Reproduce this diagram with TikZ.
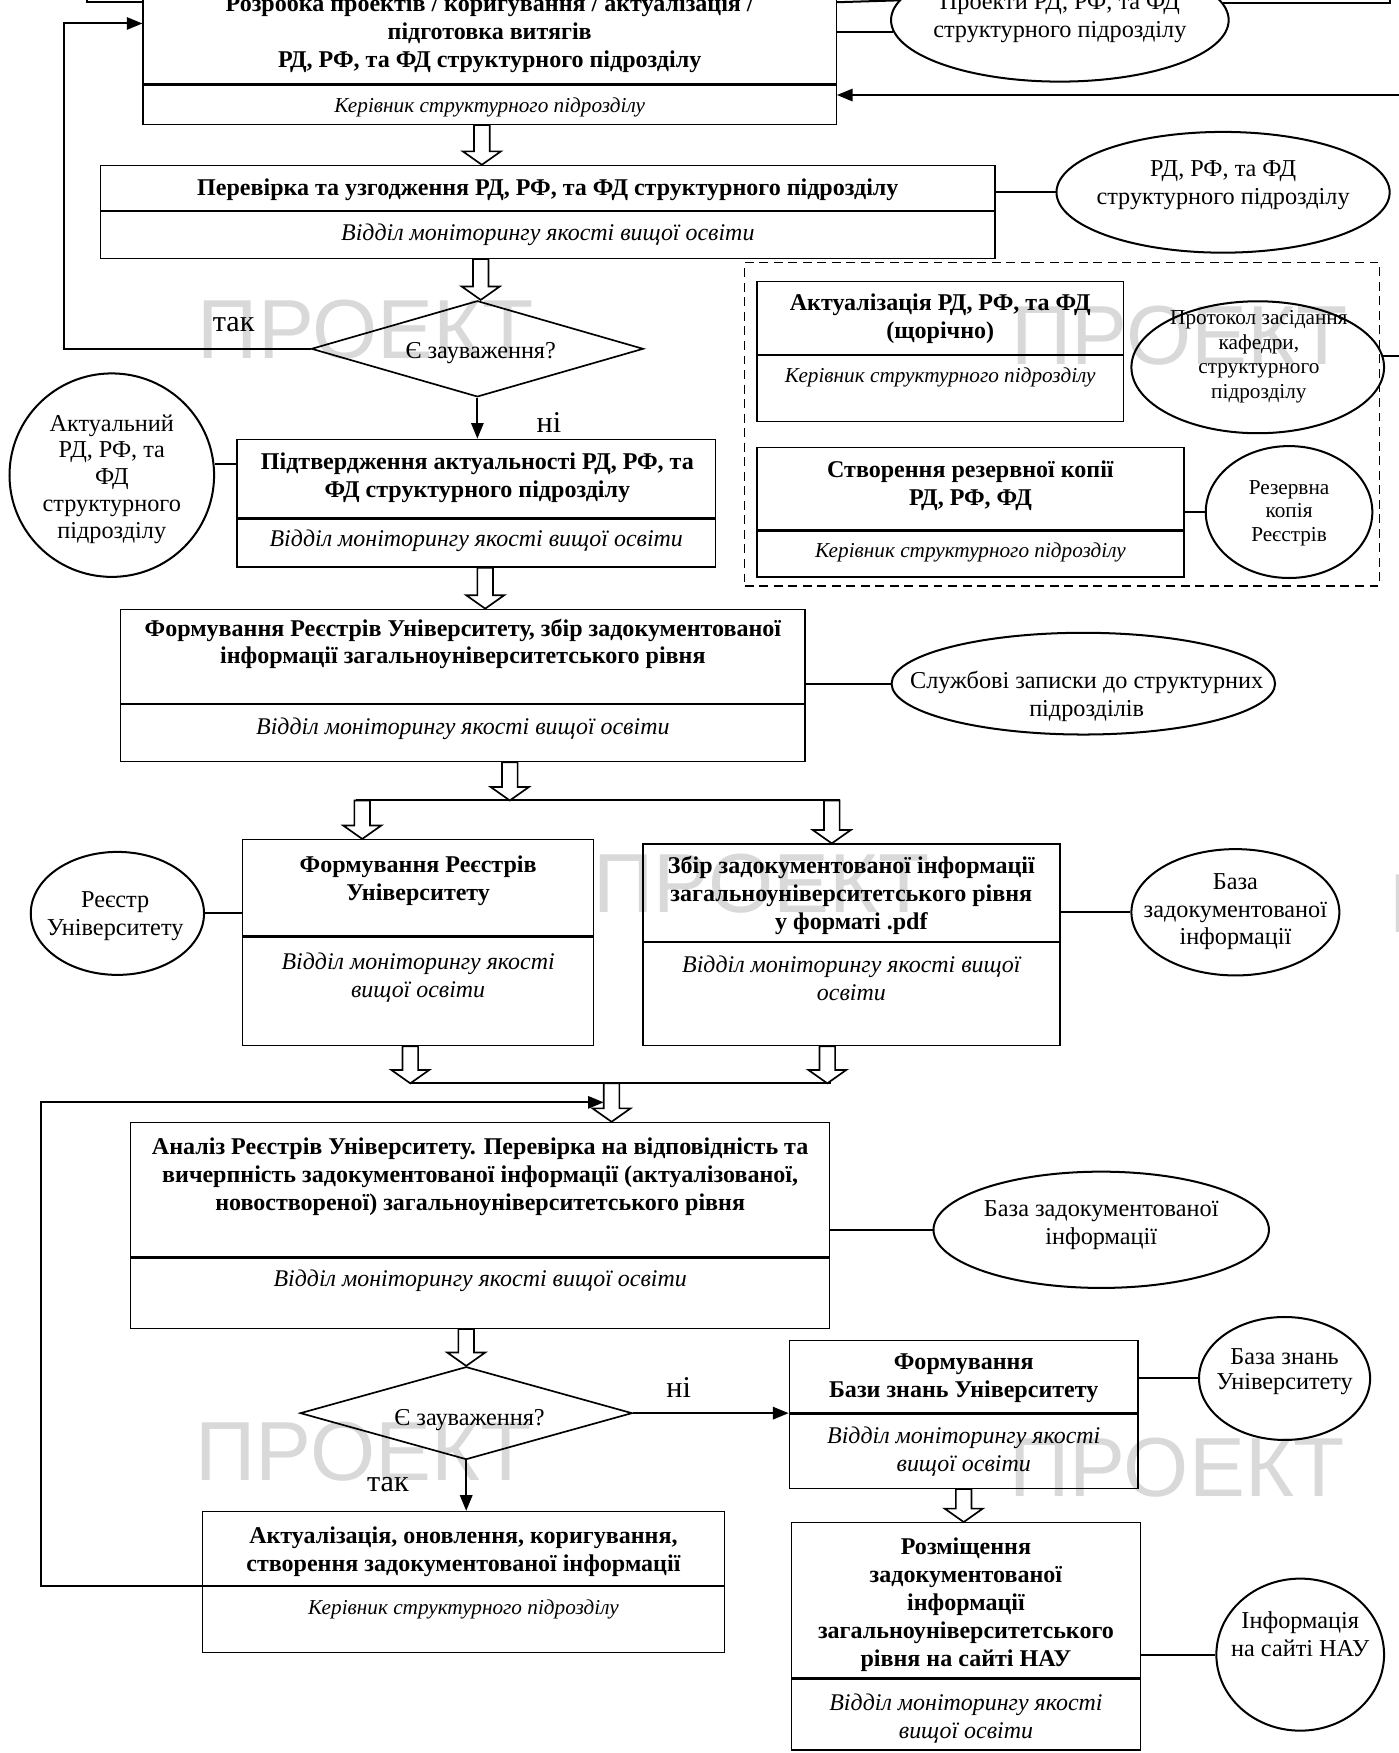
\documentclass[tikz,border=0pt]{standalone}
\usepackage{fontspec}
\setmainfont{Liberation Serif}
\newfontfamily\wmfont{Liberation Sans}
\usetikzlibrary{shapes.geometric,arrows.meta,calc}
\tikzset{
  part/.style={draw, line width=1.2pt, inner sep=0pt, rectangle},
  bt/.style={font=\fontsize{21.5}{25}\selectfont\bfseries, align=center, inner sep=0pt},
  it/.style={font=\fontsize{21.4}{25}\selectfont\itshape, align=center, inner sep=0pt},
  its/.style={font=\fontsize{19}{23}\selectfont\itshape, align=center, inner sep=0pt},
  ell/.style={draw, ellipse, line width=1.8pt, inner sep=0pt},
  et/.style={font=\fontsize{21.7}{25}\selectfont, align=center, inner sep=0pt},
  ets/.style={font=\fontsize{19}{22}\selectfont, align=center, inner sep=0pt},
  dia/.style={draw, diamond, line width=1.5pt, inner sep=0pt},
  ln/.style={line width=1.8pt},
  arr/.style={line width=1.8pt, -{Triangle[length=14pt,width=11pt]}},
  harr/.style={draw, fill=white, line width=1.5pt, line join=miter},
  lbl/.style={font=\fontsize{27}{30}\selectfont, inner sep=0pt},
  wm/.style={font=\wmfont\fontsize{75}{75}\selectfont, text=gray!30, inner sep=0pt},
  dbox/.style={draw, line width=1.3pt, dash pattern=on 8pt off 5pt, inner sep=0pt},
}
\newcommand{\harrow}[3]{%
  \path[harr] let \p1=(#2), \p2=(#3) in
    (#1pt-7pt,\y1) -- (#1pt-7pt,\y2+12pt) -- (#1pt-17pt,\y2+12pt) -- (#1pt,\y2)
    -- (#1pt+17pt,\y2+12pt) -- (#1pt+7pt,\y2+12pt) -- (#1pt+7pt,\y1) -- cycle;}
\begin{document}
\begin{tikzpicture}[x=1pt,y=-1pt]
\useasboundingbox (0,0) rectangle (1251,1568);
% watermarks
\node[wm] (wm1) at (327,295) {ПРОЕКТ};
\node[wm] (wm2) at (1055,300) {ПРОЕКТ};
\node[wm] (wm3) at (681,790) {ПРОЕКТ};
\node[wm] (wm4) at (325,1298) {ПРОЕКТ};
\node[wm] (wm5) at (1053,1313) {ПРОЕКТ};
\node[wm, anchor=west] (wm6) at (1243,808) {ПРОЕКТ};

% helper coordinates
\coordinate (y1) at (0,1.5);
\coordinate (y2) at (0,2);
\coordinate (y22) at (0,21);
\coordinate (tl) at (78,-40);
\coordinate (tr) at (1243,-40);
\coordinate (rin) at (1251,85);
\coordinate (rgt) at (1251,0);
\coordinate (lx) at (57,0);
\coordinate (fbx) at (37,0);
\coordinate (fbend) at (540,986);
\coordinate (spl) at (456,716);
\coordinate (splL) at (318,716);
\coordinate (splR) at (751,716);
\coordinate (mrg) at (547,969);
\coordinate (mrgL) at (367,969);
\coordinate (mrgR) at (743,969);

% Box 1
\node[part, minimum width=620pt, minimum height=95pt] (b1t) at (438,27.5) {};
\node[part, minimum width=620pt, minimum height=35pt, anchor=north] (b1b) at (b1t.south) {};
\node[bt] (b1tx) at (438,30) {Розробка проектів / коригування / актуалізація /\\підготовка витягів\\РД, РФ, та ФД структурного підрозділу};
\node[its] (b1bx) at (438,96) {Керівник структурного підрозділу};

% Ellipse P1
\node[ell, minimum width=302pt, minimum height=110pt] (P1) at (948,18) {};
\node[et] (P1t) at (948,16.5) {Проекти РД, РФ, та ФД\\структурного підрозділу};

% Box 2
\node[part, minimum width=800pt, minimum height=40pt] (b2t) at (490,168) {};
\node[part, minimum width=800pt, minimum height=42pt, anchor=north] (b2b) at (b2t.south) {};
\node[bt] (b2tx) at (490,170) {Перевірка та узгодження РД, РФ, та ФД структурного підрозділу};
\node[it] (b2bx) at (490,210) {Відділ моніторингу якості вищої освіти};

% Ellipse P2
\node[ell, minimum width=298pt, minimum height=108pt] (P2) at (1094,172) {};
\node[et] (P2t) at (1094,166) {РД, РФ, та ФД\\структурного підрозділу};

% Diamond 1
\node[dia, minimum width=297pt, minimum height=86pt] (d1) at (427,312) {};
\node[et] (d1t) at (430,316) {Є зауваження?};
\node[lbl] (l1) at (209,290) {так};
\node[lbl] (l2) at (491,378) {ні};

% Box 3
\node[part, minimum width=428pt, minimum height=70pt] (b3t) at (426,428) {};
\node[part, minimum width=428pt, minimum height=43pt, anchor=north] (b3b) at (b3t.south) {};
\node[bt] (b3tx) at (427,427.5) {Підтвердження актуальності РД, РФ, та\\ФД структурного підрозділу};
\node[it] (b3bx) at (426,484) {Відділ моніторингу якості вищої освіти};

% Ellipse E3
\node[ell, minimum width=183pt, minimum height=182pt] (E3) at (100,425) {};
\node[font=\fontsize{21.7}{24}\selectfont, align=center, inner sep=0pt] (E3t) at (100,428.5) {Актуальний\\РД, РФ, та\\ФД\\структурного\\підрозділу};

% Dashed group
\node[dbox, minimum width=568pt, minimum height=289pt] (grp) at (950,379.5) {};
\node[part, minimum width=328pt, minimum height=65pt] (bAt) at (841,284.5) {};
\node[part, minimum width=328pt, minimum height=59pt, anchor=north] (bAb) at (bAt.south) {};
\node[bt] (bAtx) at (841,285) {Актуалізація РД, РФ, та ФД\\(щорічно)};
\node[its] (bAbx) at (841,338) {Керівник структурного підрозділу};
\node[ell, minimum width=226pt, minimum height=118pt] (EA) at (1125,328.5) {};
\node[ets] (EAt) at (1126,319) {Протокол засідання\\кафедри,\\структурного\\підрозділу};
\node[part, minimum width=382pt, minimum height=74pt] (bBt) at (868,437) {};
\node[part, minimum width=382pt, minimum height=41pt, anchor=north] (bBb) at (bBt.south) {};
\node[bt] (bBtx) at (868,434.5) {Створення резервної копії\\РД, РФ, ФД};
\node[its] (bBbx) at (868,494) {Керівник структурного підрозділу};
\node[ell, minimum width=149pt, minimum height=118pt] (EB) at (1153,458) {};
\node[font=\fontsize{19}{21}\selectfont, align=center, inner sep=0pt] (EBt) at (1153,459) {Резервна\\копія\\Реєстрів};

% Box 4
\node[part, minimum width=612pt, minimum height=84pt] (b4t) at (414,587) {};
\node[part, minimum width=612pt, minimum height=51pt, anchor=north] (b4b) at (b4t.south) {};
\node[bt] (b4tx) at (414,576) {Формування Реєстрів Університету, збір задокументованої\\інформації загальноуніверситетського рівня};
\node[it] (b4bx) at (414,652) {Відділ моніторингу якості вищої освіти};

% Ellipse E4
\node[ell, minimum width=343pt, minimum height=91pt] (E4) at (969,611.5) {};
\node[et] (E4t) at (972,623) {Службові записки до структурних\\підрозділів};

% Box 5
\node[part, minimum width=314pt, minimum height=86pt] (b5t) at (374,794) {};
\node[part, minimum width=314pt, minimum height=97pt, anchor=north] (b5b) at (b5t.south) {};
\node[bt] (b5tx) at (374,787.5) {Формування Реєстрів\\Університету};
\node[it] (b5bx) at (374,874.5) {Відділ моніторингу якості\\вищої освіти};

% Ellipse E5
\node[ell, minimum width=155pt, minimum height=110pt] (E5) at (105,817) {};
\node[et] (E5t) at (103,819.5) {Реєстр\\Університету};

% Box 6
\node[part, minimum width=373pt, minimum height=87pt] (b6t) at (761.5,798.5) {};
\node[part, minimum width=373pt, minimum height=92pt, anchor=north] (b6b) at (b6t.south) {};
\node[bt] (b6tx) at (761.5,801) {Збір задокументованої інформації\\загальноуніверситетського рівня\\у форматі .pdf};
\node[it] (b6bx) at (761.5,875.5) {Відділ моніторингу якості вищої\\освіти};

% Ellipse E6
\node[ell, minimum width=186pt, minimum height=113pt] (E6) at (1105,816) {};
\node[font=\fontsize{21.7}{24.5}\selectfont, align=center, inner sep=0pt] (E6t) at (1105,815.5) {База\\задокументованої\\інформації};

% Box 7
\node[part, minimum width=625pt, minimum height=120pt] (b7t) at (429.5,1064) {};
\node[part, minimum width=625pt, minimum height=63pt, anchor=north] (b7b) at (b7t.south) {};
\node[bt] (b7tx) at (429.5,1052.5) {Аналіз Реєстрів Університету. Перевірка на відповідність та\\вичерпність задокументованої інформації (актуалізованої,\\новоствореної) загальноуніверситетського рівня};
\node[it] (b7bx) at (429.5,1146) {Відділ моніторингу якості вищої освіти};

% Ellipse E7
\node[ell, minimum width=300pt, minimum height=104pt] (E7) at (985,1100) {};
\node[et] (E7t) at (985,1095.5) {База задокументованої\\інформації};

% Diamond 2
\node[dia, minimum width=297pt, minimum height=83pt] (d2) at (417,1264) {};
\node[et] (d2t) at (420,1270) {Є зауваження?};
\node[lbl] (l3) at (607,1241) {ні};
\node[lbl] (l4) at (347,1328) {так};

% Box 8
\node[part, minimum width=312pt, minimum height=65pt] (b8t) at (862,1231.5) {};
\node[part, minimum width=312pt, minimum height=66pt, anchor=north] (b8b) at (b8t.south) {};
\node[bt] (b8tx) at (862,1233) {Формування\\Бази знань Університету};
\node[it] (b8bx) at (862,1298.5) {Відділ моніторингу якості\\вищої освіти};

% Ellipse E8
\node[ell, minimum width=153pt, minimum height=110pt] (E8) at (1149,1233) {};
\node[font=\fontsize{21.7}{23}\selectfont, align=center, inner sep=0pt] (E8t) at (1149,1227) {База знань\\Університету};

% Box 10
\node[part, minimum width=312pt, minimum height=139pt] (b10t) at (864,1431.5) {};
\node[part, minimum width=312pt, minimum height=63pt, anchor=north] (b10b) at (b10t.south) {};
\node[bt] (b10tx) at (864,1435) {Розміщення\\задокументованої\\інформації\\загальноуніверситетського\\рівня на сайті НАУ};
\node[it] (b10bx) at (864,1537) {Відділ моніторингу якості\\вищої освіти};

% Ellipse E10
\node[ell, minimum width=150pt, minimum height=136pt] (E10) at (1163,1480) {};
\node[et] (E10t) at (1163,1461.5) {Інформація\\на сайті НАУ};

% Box 9
\node[part, minimum width=467pt, minimum height=66pt] (b9t) at (414.5,1385) {};
\node[part, minimum width=467pt, minimum height=59pt, anchor=north] (b9b) at (b9t.south) {};
\node[bt] (b9tx) at (414.5,1388) {Актуалізація, оновлення, коригування,\\створення задокументованої інформації};
\node[its] (b9bx) at (414.5,1440) {Керівник структурного підрозділу};

% ---- plain connectors
\draw[ln] (tl) -- (tl |- y1) -- (b1t.west |- y1);
\draw[ln] (b1t.east |- y2) -- (P1.173.7);
\draw[ln] (P1.184.65 -| b1t.east) -- (P1.184.65);
\draw[ln] (P1.6.3) -- (P1.6.3 -| tr) -- (tr);
\draw[ln] (b2t.east |- P2.west) -- (P2.west);
\draw[ln] (E3.6) -- (E3.6 -| b3t.west);
\draw[ln] (b4t.east |- E4.west) -- (E4.west);
\draw[ln] (E5.east) -- (E5.east -| b5t.west);
\draw[ln] (b6t.east |- E6.west) -- (E6.west);
\draw[ln] (b7t.east |- E7.west) -- (E7.west);
\draw[ln] (b8t.east |- E8.west) -- (E8.west);
\draw[ln] (b10t.east |- E10.west) -- (E10.west);
\draw[ln] (bBt.east |- EB.west) -- (EB.west);
\draw[ln] (EA.5.35) -- (EA.5.35 -| rgt);
\draw[ln] (splL) -- (splR);
\draw[ln] (mrgL) -- (mrgR);

% ---- arrows
\draw[arr] (rin) -- (rin -| b1b.east);
\draw[arr] (d1.west) -- (d1.west -| lx) -- (lx |- y22) -- (b1t.west |- y22);
\draw[arr] (d1.south) -- (d1.south |- b3t.north);
\draw[arr] (d2.east) -- (d2.east -| b8t.west);
\draw[arr] (d2.south) -- (d2.south |- b9t.north);

% ---- hollow arrows
\harrow{431}{b1b.south}{b2t.north}
\harrow{430}{b2b.south}{d1.north}
\harrow{434}{b3b.south}{b4t.north}
\harrow{456}{b4b.south}{spl}
\harrow{324}{spl}{b5t.north}
\harrow{744}{spl}{b6t.north}
\harrow{367}{b5b.south}{mrg}
\harrow{740}{b6b.south}{mrg}
\harrow{547}{mrg}{b7t.north}
\harrow{417}{b7b.south}{d2.north}
\harrow{862}{b8b.south}{b10t.north}

% feedback loop
\draw[arr] (b9t.south west) -- (b9t.south west -| fbx) -- (fbx |- fbend) -- (fbend);
\end{tikzpicture}
\end{document}
